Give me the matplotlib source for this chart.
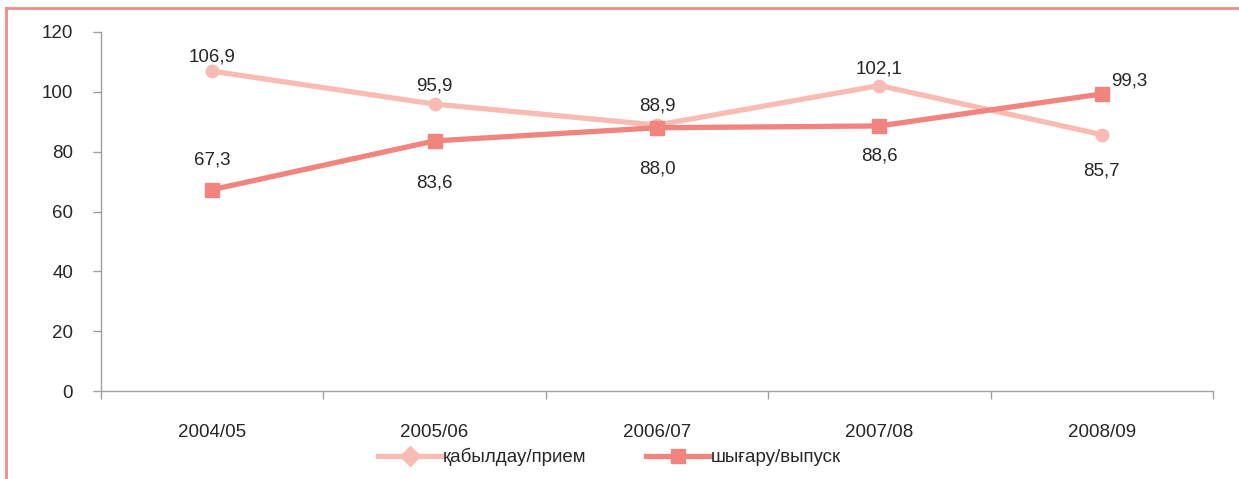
import matplotlib
matplotlib.use("Agg")
import matplotlib.pyplot as plt
from matplotlib.lines import Line2D
import numpy as np

plt.rcParams['font.family'] = ['Liberation Sans', 'DejaVu Sans']

categories = ["2004/05", "2005/06", "2006/07", "2007/08", "2008/09"]
intake = [106.9, 95.9, 88.9, 102.1, 85.7]
output = [67.3, 83.6, 88.0, 88.6, 99.3]
series_names = ["қабылдау/прием", "шығару/выпуск"]

c_in = "#F9BCB4"
c_out = "#F28480"
txt = "#262626"
fs = 13.5

fig = plt.figure(figsize=(12.39, 4.79), dpi=100)
ax = fig.add_axes([101/1239, 1-391/479, (1213-101)/1239, (391-32)/479])

x = np.arange(len(categories))
ax.plot(x, intake, color=c_in, lw=3.8, marker='o', ms=9, zorder=3)
ax.plot(x, output, color=c_out, lw=3.8, marker='s', ms=10, zorder=4)

ax.set_xlim(-0.5, len(categories) - 0.5)
ax.set_ylim(0, 120)
ax.set_yticks(np.arange(0, 121, 20))
ax.set_xticks(x)
ax.set_xticklabels(categories)
ax.set_xticks(np.arange(-0.5, len(categories), 1), minor=True)
ax.tick_params(axis='x', which='major', length=0, pad=24, labelsize=fs, labelcolor=txt)
ax.tick_params(axis='x', which='minor', length=6, color='#A0A0A0', width=1)
ax.tick_params(axis='y', length=6, color='#A0A0A0', width=1, pad=14, labelsize=fs, labelcolor=txt)
for s in ['top', 'right']:
    ax.spines[s].set_visible(False)
for s in ['left', 'bottom']:
    ax.spines[s].set_color('#A0A0A0')
    ax.spines[s].set_linewidth(1)

fmt = lambda v: f"{v:.1f}".replace('.', ',')
# label offsets in points (dx, dy)
in_off = [(0, 10), (0, 13), (0, 14), (0, 12), (0, -26)]
out_off = [(0, 21), (0, -30), (0, -30), (0, -22), (20, 9)]
for i in range(len(categories)):
    ax.annotate(fmt(intake[i]), (x[i], intake[i]), xytext=in_off[i], textcoords='offset points',
                ha='center', va='center', fontsize=fs, color=txt)
    ax.annotate(fmt(output[i]), (x[i], output[i]), xytext=out_off[i], textcoords='offset points',
                ha='center', va='center', fontsize=fs, color=txt)

handles = [Line2D([], [], color=c_in, lw=3.8, marker='D', ms=10),
           Line2D([], [], color=c_out, lw=3.8, marker='s', ms=10)]
fig.legend(handles, series_names, loc='center', bbox_to_anchor=(0.492, 1-457/479), ncol=2,
           frameon=False, fontsize=fs, handlelength=3.4, handletextpad=0.05, columnspacing=3.2,
           labelcolor=txt)

# border lines
fig.add_artist(Line2D([6/1239, 6/1239], [0, 1-8/479], transform=fig.transFigure, color='#F28B87', lw=2))
fig.add_artist(Line2D([6/1239, 1], [1-8/479, 1-8/479], transform=fig.transFigure, color='#F28B87', lw=2))

fig.savefig("out.png", dpi=100)
